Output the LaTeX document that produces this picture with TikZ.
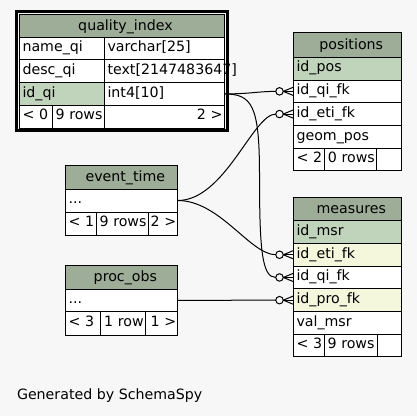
\documentclass[tikz,border=0pt]{standalone}
\usepackage{fontspec}
\setmainfont{DejaVu Sans}

\definecolor{headgreen}{HTML}{9DAD97}
\definecolor{keygreen}{HTML}{C0D3BB}
\definecolor{idxyellow}{HTML}{F5F7DD}
\definecolor{canvas}{HTML}{F7F7F7}

\begin{document}
\begin{tikzpicture}[x=1pt,y=-1pt,line width=1pt]

\tikzstyle {cell}=[draw,shape=rectangle,fill=white,anchor=north west,
     inner xsep=3.5pt,inner ysep=0pt,outer sep=0pt,align=left,
     text height=10pt,text depth=3.4pt,font=\fontsize{14.2}{17}\selectfont];
\tikzstyle {head}=[cell,fill=headgreen,align=center,text height=12.5pt,
     execute at begin node={\leavevmode\hspace*{8pt}}];
\tikzstyle {key}=[cell,fill=keygreen];
\tikzstyle {indexed}=[cell,fill=idxyellow];
\tikzstyle {tail}=[cell,align=right,inner xsep=1.5pt];
\tikzstyle {odot}=[draw,shape=circle,minimum size=7.5pt,inner sep=0pt,outer sep=0pt];

\newcommand*{\crowfoot}[2]{
\draw ([xshift=-13.5pt]#2.west) node [odot] (#1) {};
\draw (#1.east) -- ([yshift=4pt]#2.west);
\draw (#1.east) -- (#2.west);
\draw (#1.east) -- ([yshift=-4pt]#2.west);
}

\fill [canvas] (0,0) rectangle (417,416);
\useasboundingbox (0,0) rectangle (417,416);

% quality_index (the table in focus)
\draw [line width=3pt] (16.5,11) rectangle (227,130.5);
\begin{scope}[shift={(19,14)}]
\draw (0,0) node [head,text width=198pt,minimum height=23pt] (qi) {quality\_index};
\draw (0,23) node [cell,text width=78pt,minimum height=22.75pt] (qi-name) {name\_qi};
\draw (85,23) node [cell,text width=113pt,minimum height=22.75pt] (qi-name-type) {varchar[25]};
\draw (0,45.75) node [cell,text width=78pt,minimum height=22.75pt] (qi-desc) {desc\_qi};
\draw (85,45.75) node [cell,text width=113pt,minimum height=22.75pt] (qi-desc-type) {text[2147483647]};
\draw (0,68.5) node [key,text width=78pt,minimum height=22.75pt] (qi-id) {id\_qi};
\draw (85,68.5) node [cell,text width=113pt,minimum height=22.75pt] (qi-id-type) {int4[10]};
\draw (0,91.25) node [cell,text width=26pt,minimum height=22.75pt] (qi-prev) {<~0};
\draw (33,91.25) node [cell,text width=45pt,minimum height=22.75pt] (qi-rows) {9~rows};
\draw (85,91.25) node [tail,text width=117pt,minimum height=22.75pt] (qi-next) {2~>};
\end{scope}

% positions
\begin{scope}[shift={(293,32.3)}]
\draw (0,0) node [head,text width=101.5pt,minimum height=25pt] (pos) {positions};
\draw (0,25) node [key,text width=101.5pt,minimum height=22.7pt] (pos-id) {id\_pos};
\draw (0,47.7) node [cell,text width=101.5pt,minimum height=22.7pt] (pos-qi) {id\_qi\_fk};
\draw (0,70.4) node [cell,text width=101.5pt,minimum height=22.7pt] (pos-eti) {id\_eti\_fk};
\draw (0,93.1) node [cell,text width=101.5pt,minimum height=22.7pt] (pos-geom) {geom\_pos};
\draw (0,115.8) node [cell,text width=24.3pt,minimum height=22.7pt] (pos-prev) {<~2};
\draw (31.3,115.8) node [cell,text width=45.2pt,minimum height=22.7pt] (pos-rows) {0~rows};
\draw (83.5,115.8) node [tail,text width=22pt,minimum height=22.7pt] (pos-next) {};
\end{scope}

% measures
\begin{scope}[shift={(293,197.3)}]
\draw (0,0) node [head,text width=101.5pt,minimum height=23.4pt] (msr) {measures};
\draw (0,23.4) node [key,text width=101.5pt,minimum height=22.7pt] (msr-id) {id\_msr};
\draw (0,46.1) node [indexed,text width=101.5pt,minimum height=22.7pt] (msr-eti) {id\_eti\_fk};
\draw (0,68.8) node [cell,text width=101.5pt,minimum height=22.7pt] (msr-qi) {id\_qi\_fk};
\draw (0,91.5) node [indexed,text width=101.5pt,minimum height=22.7pt] (msr-pro) {id\_pro\_fk};
\draw (0,114.2) node [cell,text width=101.5pt,minimum height=22.7pt] (msr-val) {val\_msr};
\draw (0,136.9) node [cell,text width=24pt,minimum height=22.7pt] (msr-prev) {<~3};
\draw (31,136.9) node [cell,text width=46pt,minimum height=22.7pt] (msr-rows) {9~rows};
\draw (84,136.9) node [tail,text width=21.5pt,minimum height=22.7pt] (msr-next) {};
\end{scope}

% event_time
\begin{scope}[shift={(65,165)}]
\draw (0,0) node [head,text width=105.7pt,minimum height=24pt] (eti) {event\_time};
\draw (0,24) node [cell,text width=105.7pt,minimum height=23pt] (eti-more) {...};
\draw (0,47) node [cell,text width=24pt,minimum height=23pt] (eti-prev) {<~1};
\draw (31,47) node [cell,text width=45pt,minimum height=23pt] (eti-rows) {9~rows};
\draw (83,47) node [tail,text width=26.7pt,minimum height=23pt] (eti-next) {2~>};
\end{scope}

% proc_obs
\begin{scope}[shift={(65,265)}]
\draw (0,0) node [head,text width=105.7pt,minimum height=24pt] (pro) {proc\_obs};
\draw (0,24) node [cell,text width=105.7pt,minimum height=22.7pt] (pro-more) {...};
\draw (0,46.7) node [cell,text width=28.7pt,minimum height=23.3pt] (pro-prev) {<~3};
\draw (35.7,46.7) node [cell,text width=38pt,minimum height=23.3pt] (pro-rows) {1~row};
\draw (80.7,46.7) node [tail,text width=29pt,minimum height=23.3pt] (pro-next) {1~>};
\end{scope}

% Foreign key ends
\crowfoot{o-pos-qi}{pos-qi}
\crowfoot{o-pos-eti}{pos-eti}
\crowfoot{o-msr-eti}{msr-eti}
\crowfoot{o-msr-qi}{msr-qi}
\crowfoot{o-msr-pro}{msr-pro}

% Relations
\coordinate (qi-bend) at (259.5,175);
\draw (qi-id-type.east) .. controls (250,94) and (256,91.5) .. (o-pos-qi.west);
\draw (qi-id-type.east) .. controls (252,94) and (259.5,105) .. (qi-bend)
           .. controls (259.5,250) and (262,277.5) .. (o-msr-qi.west);
\draw (eti-more.east) .. controls (225,200.5) and (253,114) .. (o-pos-eti.west);
\draw (eti-more.east) .. controls (220,200.5) and (250,254.5) .. (o-msr-eti.west);
\draw (pro-more.east) -- (o-msr-pro.west);

\draw (16.5,399.3) node [anchor=base west,inner sep=0pt,
  font=\fontsize{14.2}{17}\selectfont] (credit) {Generated by SchemaSpy};
\end{tikzpicture}
\end{document}
